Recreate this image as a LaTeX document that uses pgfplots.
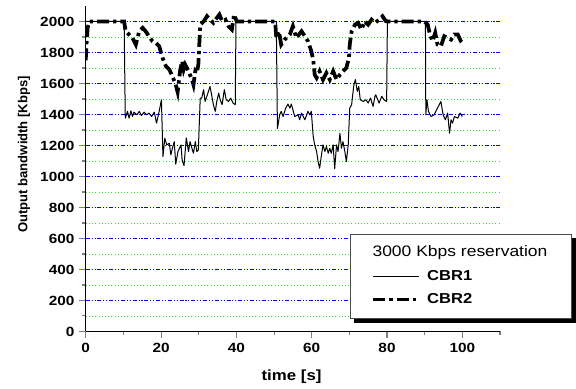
\documentclass[border=0pt]{standalone}
\usepackage{fontspec}
\setmainfont{Liberation Sans}[FakeStretch=1.15]
\newfontfamily\plainsans{Liberation Sans}
\usepackage{pgfplots}
\pgfplotsset{compat=1.18}
\definecolor{gridgreen}{RGB}{40,225,40}
\begin{document}
\begin{tikzpicture}
\useasboundingbox (-64.3pt,-43.1pt) rectangle (367.7pt,248.6pt);
\fill[white] (-64.3pt,-43.1pt) rectangle (367.7pt,248.6pt);
\begin{axis}[
 at={(0,0)}, anchor=south west, scale only axis,
 width=310.7pt, height=244.1pt,
 xmin=0, xmax=110, ymin=0, ymax=2100,
 axis x line*=bottom, axis y line*=left,
 axis line style={line width=1pt},
 xtick={0,20,...,100}, minor xtick={10,30,...,110},
 ytick={0,200,...,2000}, minor ytick={100,300,...,1900},
 tick align=outside, major tick length=5pt, minor tick length=3pt,
 tick style={line width=0.8pt},
 ymajorgrids, yminorgrids,
 major grid style={blue, line width=0.5pt, dash pattern=on 3pt off 1.4pt on 0.8pt off 1.4pt on 0.8pt off 1.4pt},
 minor grid style={gridgreen, line width=0.5pt, dash pattern=on 0.8pt off 1.6pt},
 ticklabel style={font=\bfseries\fontsize{10}{12}\selectfont},
 /pgf/number format/assume math mode=true,
 /pgf/number format/1000 sep={},
 xlabel={time [s]}, ylabel={Output bandwidth [Kbps]},
 xlabel style={font=\bfseries\fontsize{11}{13}\selectfont, at={(axis description cs:0.497,-0.14)}, anchor=center},
 ylabel style={font=\plainsans\bfseries\fontsize{9.8}{12}\selectfont, at={(axis description cs:-0.149,0.544)}, anchor=center},
 legend cell align=left,
 legend style={name=leg, at={(0.637,0.300)}, anchor=north west, draw=black!70, line width=0.8pt, fill=white,
   font=\fontsize{11.4}{13}\selectfont, inner xsep=16pt, inner ysep=8.4pt, row sep=6.5pt,
   nodes={inner xsep=2pt, inner ysep=0pt, text height=8.5pt, text depth=2.5pt}},
 legend image code/.code={\draw[#1] (0pt,0pt) -- (34pt,0pt);},
]
\addlegendimage{empty legend}
\addlegendentry{\hspace*{-38pt}3000 Kbps reservation}
\addplot[black, line width=0.75pt, line join=round] coordinates {
(0,2000)(10.2,2000)(10.5,1376)(11.1,1420)(11.5,1376)(12.0,1424)(12.4,1387)(12.8,1415)(13.6,1398)(14.2,1420)(14.8,1394)(15.5,1415)(16.2,1398)(16.8,1409)(17.5,1387)(18.2,1415)(18.8,1344)(19.5,1420)(20.1,1495)(20.5,1128)(21.0,1247)(21.5,1204)(22.2,1214)(22.6,1139)(23.0,1182)(23.5,1225)(23.9,1080)(24.5,1161)(25.3,1204)(25.6,1105)(26.1,1070)(26.7,1249)(27.3,1161)(27.7,1225)(28.2,1182)(28.6,1150)(29.1,1225)(29.5,1161)(29.9,1171)(30.4,1506)(30.8,1506)(31.3,1560)(31.7,1484)(32.3,1527)(33.0,1581)(33.5,1517)(33.9,1463)(34.4,1420)(34.8,1484)(35.3,1538)(35.7,1495)(36.2,1463)(36.8,1560)(37.3,1495)(37.9,1484)(38.5,1506)(39.1,1474)(39.7,1463)(39.9,2000)(50.6,2000)(50.9,1310)(51.5,1398)(51.9,1420)(52.4,1387)(53.1,1441)(53.7,1467)(54.2,1441)(54.6,1467)(55.5,1387)(56.4,1398)(56.8,1366)(57.3,1409)(58.2,1366)(59.0,1420)(59.5,1398)(59.9,1420)(60.4,1258)(60.8,1204)(61.3,1161)(61.7,1096)(62.1,1053)(62.6,1139)(63.0,1204)(63.5,1161)(63.9,1193)(64.4,1150)(64.8,1182)(65.2,1150)(65.7,1204)(66.1,1049)(66.6,1204)(67.0,1161)(67.5,1279)(67.9,1182)(68.3,1225)(68.8,1161)(69.2,1096)(69.7,1204)(70.1,1441)(70.6,1463)(71.2,1592)(71.6,1625)(72.1,1549)(72.5,1581)(72.9,1495)(73.7,1484)(74.4,1495)(75.0,1474)(75.6,1506)(76.3,1452)(76.8,1517)(77.0,1527)(77.9,1474)(78.6,1517)(79.2,1495)(79.9,1484)(80.1,2000)(90.2,2000)(90.3,1398)(90.6,1495)(91.0,1420)(91.7,1387)(92.5,1398)(93.4,1441)(94.3,1484)(94.9,1398)(95.5,1366)(96.1,1409)(96.6,1279)(97.0,1366)(97.4,1344)(97.9,1387)(98.8,1376)(99.4,1409)(100.0,1387)
};
\addlegendentry{\hspace*{3pt}\textbf{\fontsize{10.8}{13}\selectfont CBR1}}
\addplot[black, line width=2.8pt, dash pattern=on 9pt off 3pt on 2.5pt off 3pt] coordinates {
(0,1750)(0.2,1850)(0.5,1960)(1,2000)(10.2,2000)(10.6,1937)(11.5,1916)(12.4,1894)(13.3,1851)(14.2,1937)(15.1,1959)(15.9,1937)(16.8,1905)(17.7,1873)(18.6,1862)(19.5,1841)(20.4,1765)(21.3,1711)(22.2,1690)(23.0,1647)(23.9,1592)(24.4,1545)(25.1,1690)(25.6,1744)(26.0,1690)(26.4,1722)(27.3,1680)(28.2,1625)(28.6,1592)(29.1,1680)(29.5,1668)(29.9,1722)(30.2,1873)(30.4,1980)(31.3,2000)(32.2,2034)(33.0,2012)(33.9,1991)(34.8,2023)(35.5,2045)(36.2,2002)(37.1,2012)(37.9,1970)(38.8,1948)(39.4,2045)(40.1,2000)(50.3,2000)(50.6,1894)(51.3,1937)(51.9,1851)(52.8,1883)(54.2,1916)(55.0,1970)(55.9,1894)(57.3,1937)(58.2,1905)(59.0,1873)(59.9,1808)(60.4,1754)(60.8,1657)(61.3,1636)(62.1,1679)(63.0,1625)(63.9,1668)(64.8,1625)(65.7,1679)(66.6,1625)(67.5,1657)(68.3,1679)(69.2,1701)(69.9,1765)(70.1,1851)(70.6,1937)(71.5,1980)(72.3,1991)(73.2,1948)(74.1,2002)(75.0,1980)(75.9,2012)(76.8,1991)(77.9,2012)(78.8,2034)(79.7,2002)(80.6,2000)(89.9,2000)(90.8,1980)(91.4,1916)(92.1,1873)(92.8,1927)(93.4,1851)(94.3,1840)(95.2,1905)(96.1,1894)(97.0,1883)(97.9,1916)(98.8,1916)(99.6,1873)(100.0,1862)
};
\addlegendentry{\hspace*{3pt}\textbf{\fontsize{10.8}{13}\selectfont CBR2}}
\end{axis}
\fill[black] ([yshift=-3.5pt]leg.north east) rectangle ([xshift=3.5pt,yshift=-3.5pt]leg.south east);
\fill[black] ([xshift=3.5pt]leg.south west) rectangle ([xshift=3.5pt,yshift=-3.5pt]leg.south east);
\end{tikzpicture}
\end{document}
